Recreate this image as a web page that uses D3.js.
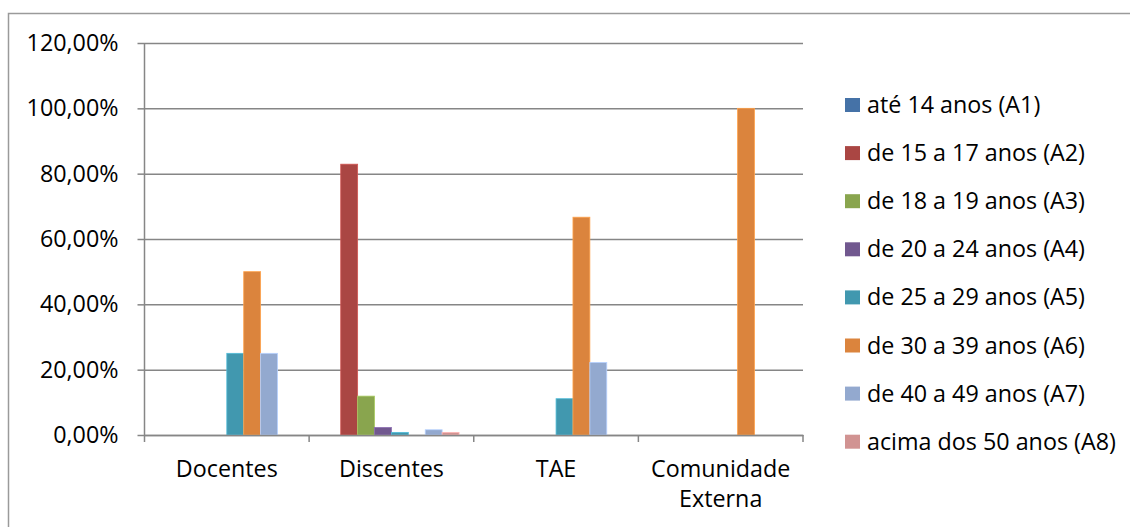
<!DOCTYPE html>
<html>
<head>
<meta charset="utf-8">
<script src="https://cdn.jsdelivr.net/npm/d3@7"></script>
<style>
  body { margin: 0; background: #fff; }
  text { font-family: "Open Sans", "Noto Sans", sans-serif; fill: #000; }
</style>
</head>
<body>
<div id="viz_container"></div>
<script>
// categories and series
const categories = ["Docentes", "Discentes", "TAE", "Comunidade Externa"];
const seriesNames = ["até 14 anos (A1)", "de 15 a 17 anos (A2)", "de 18 a 19 anos (A3)",
                     "de 20 a 24 anos (A4)", "de 25 a 29 anos (A5)", "de 30 a 39 anos (A6)",
                     "de 40 a 49 anos (A7)", "acima dos 50 anos (A8)"];
// values per series, one per category (fractions)
const a1 = [0, 0, 0, 0];
const a2 = [0, 0.829, 0, 0];
const a3 = [0, 0.119, 0, 0];
const a4 = [0, 0.023, 0, 0];
const a5 = [0.25, 0.008, 0.1111, 0];
const a6 = [0.5, 0, 0.6667, 1.0];
const a7 = [0.25, 0.016, 0.2222, 0];
const a8 = [0, 0.008, 0, 0];
const yTicks = [0, 0.2, 0.4, 0.6, 0.8, 1.0, 1.2];

const values = [a1, a2, a3, a4, a5, a6, a7, a8];
const colors = ["#4572A7", "#AA4643", "#89A54E", "#71588F", "#4198AF", "#DB843D", "#93A9CF", "#D19392"];

const W = 1130, H = 527;
const plot = {left: 144.5, right: 803, top: 43, bottom: 435};
const fs = 23.3;

const svg = d3.select("#viz_container")
  .append("svg")
    .attr("width", W)
    .attr("height", H);

// chart frame
svg.append("rect")
  .attr("x", 8.5).attr("y", 13.5)
  .attr("width", W + 10).attr("height", H + 10)
  .attr("fill", "none").attr("stroke", "#9a9a9a").attr("stroke-width", 1.5);

const x0 = d3.scaleBand()
  .domain(categories)
  .range([plot.left, plot.right]);

const x1 = d3.scaleBand()
  .domain(seriesNames)
  .range([0, x0.bandwidth()])
  .paddingOuter(0.87);

const y = d3.scaleLinear()
  .domain([0, 1.2])
  .range([plot.bottom, plot.top]);

const fmt = v => d3.format(".2f")(v * 100).replace(".", ",") + "%";

// gridlines
svg.append("g")
  .attr("transform", `translate(${plot.left},0)`)
  .call(d3.axisLeft(y).tickValues(yTicks).tickSize(-(plot.right - plot.left)).tickFormat(""))
  .call(g => g.select(".domain").remove())
  .call(g => g.selectAll("line").attr("stroke", "#868686").attr("stroke-width", 1.5));

// y axis ticks + labels
svg.append("g")
  .attr("transform", `translate(${plot.left},0)`)
  .call(d3.axisLeft(y).tickValues(yTicks).tickSize(7).tickPadding(19).tickFormat(fmt))
  .call(g => g.select(".domain").remove())
  .call(g => g.selectAll("line").attr("stroke", "#868686").attr("stroke-width", 1.5))
  .call(g => g.selectAll("text").attr("font-size", fs).attr("fill", "#000")
      .style("font-family", "'Open Sans', sans-serif"));

// bars
const rows = categories.map((c, i) => ({cat: c, vals: seriesNames.map((s, j) => ({s, j, v: values[j][i]}))}));

svg.append("g")
  .selectAll("g")
  .data(rows)
  .join("g")
    .attr("transform", d => `translate(${x0(d.cat)},0)`)
  .selectAll("rect")
  .data(d => d.vals)
  .join("rect")
    .attr("x", d => x1(d.s))
    .attr("y", d => y(d.v))
    .attr("width", x1.bandwidth())
    .attr("height", d => y(0) - y(d.v))
    .attr("fill", d => colors[d.j])
    .attr("stroke", d => d3.color(colors[d.j]).brighter(0.6))
    .attr("stroke-width", 0.8);

// y axis line
svg.append("line")
  .attr("x1", plot.left).attr("x2", plot.left)
  .attr("y1", plot.top).attr("y2", plot.bottom + 7)
  .attr("stroke", "#868686").attr("stroke-width", 1.5);

// x axis
svg.append("g")
  .attr("transform", `translate(0,${plot.bottom})`)
  .call(d3.axisBottom(x0).tickSize(0).tickFormat(""))
  .call(g => g.select(".domain").attr("stroke", "#868686").attr("stroke-width", 1.5));

// category separators
const seps = categories.map(c => x0(c) + x0.bandwidth());
svg.append("g")
  .selectAll("line")
  .data(seps)
  .join("line")
    .attr("x1", d => d).attr("x2", d => d)
    .attr("y1", plot.bottom).attr("y2", plot.bottom + 7)
    .attr("stroke", "#868686").attr("stroke-width", 1.5);

// category labels
const catLabels = svg.append("g")
  .selectAll("text")
  .data(categories)
  .join("text")
    .attr("x", d => x0(d) + x0.bandwidth() / 2)
    .attr("y", 477)
    .attr("text-anchor", "middle")
    .attr("font-size", fs);

catLabels.each(function(d) {
  const words = d === "Comunidade Externa" ? ["Comunidade", "Externa"] : [d];
  const t = d3.select(this);
  words.forEach((w, i) => {
    t.append("tspan")
      .attr("x", x0(d) + x0.bandwidth() / 2)
      .attr("dy", i === 0 ? 0 : 30)
      .text(w);
  });
});

// legend
const legend = svg.append("g")
  .selectAll("g")
  .data(seriesNames)
  .join("g")
    .attr("transform", (d, i) => `translate(845, ${113 + i * 48.1})`);

legend.append("rect")
  .attr("x", 0).attr("y", -15)
  .attr("width", 15).attr("height", 14)
  .attr("fill", (d, i) => colors[i]);

legend.append("text")
  .attr("x", 22).attr("y", 0)
  .attr("font-size", fs)
  .text(d => d);
</script>
</body>
</html>
